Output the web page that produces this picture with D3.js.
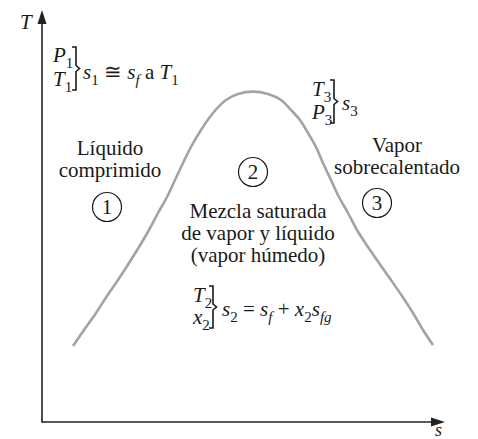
<!DOCTYPE html>
<html>
<head>
<meta charset="utf-8">
<script src="https://cdn.jsdelivr.net/npm/d3@7"></script>
</head>
<body style="margin:0">
<svg id="chart" width="478" height="439" style="font-family: 'Liberation Serif'"></svg>
<script>
// Saturation dome on the T-s plane (entropy units, temperature units)
const domeS = [7.75, 10.5, 13.5, 16.25, 19, 21.75, 24.25, 26.75, 29, 31.25, 33.25, 35.25,
               37.25, 39.75, 42.75, 46, 49, 52.75,
               56.5, 59.75, 62.25, 64.5, 66.5, 68.5, 70.25, 72.25, 74.25, 76.5, 78.75,
               81.5, 84.25, 87.25, 90, 92.75, 95.25, 97.75];
const domeT = [19, 23, 27.25, 31.5, 35.5, 39.75, 43.75, 48, 52.25, 56.25, 60.5, 64.75,
               68.75, 73, 77.25, 80.5, 82, 82.6,
               82, 80.5, 78, 75.5, 72.25, 68.75, 64.75, 60.5, 56.25, 52.25, 48,
               43.75, 39.75, 35.5, 31.5, 27.25, 23, 19.25];

const axisTitles = ["T", "s"];
const regionNames = [["Líquido", "comprimido"],
                     ["Mezcla saturada", "de vapor y líquido", "(vapor húmedo)"],
                     ["Vapor", "sobrecalentado"]];
const regionNumbers = ["1", "2", "3"];

const serif = "Liberation Serif";
const svg = d3.select("#chart");
const x = d3.scaleLinear().domain([0, 100]).range([42, 442]);
const y = d3.scaleLinear().domain([0, 100]).range([422, 22]);
const ink = "#1a1a1a";

function label(px, py, size) {
  return svg.append("text").attr("x", px).attr("y", py)
    .attr("font-family", serif).style("font-family", serif)
    .attr("font-size", size).attr("fill", ink);
}

// axes: plain lines with filled arrowheads, no ticks
const axisColor = "#222";
svg.append("path").attr("stroke", axisColor).attr("stroke-width", 1.6).attr("fill", "none")
  .attr("d", `M${x(0)},${y(0)}H${x(98)}`);
svg.append("path").attr("stroke", axisColor).attr("stroke-width", 1.6).attr("fill", "none")
  .attr("d", `M${x(0)},${y(0) + 0.8}V${y(100) - 2}`);
svg.append("path").attr("fill", axisColor)
  .attr("d", `M${x(0)},${y(103)} L${x(0) - 4.5},${y(99.5)} L${x(0) + 4.5},${y(99.5)} Z`);
svg.append("path").attr("fill", axisColor)
  .attr("d", `M${x(100.75)},${y(0)} L${x(97.25)},${y(0) - 4.5} L${x(97.25)},${y(0) + 4.5} Z`);

label(20, 29, 21).attr("font-style", "italic").text(axisTitles[0]);
label(435, 436, 18).attr("font-style", "italic").text(axisTitles[1]);

// dome
const line = d3.line().x(d => x(d[0])).y(d => y(d[1])).curve(d3.curveCatmullRom.alpha(0.5));
svg.append("path").datum(d3.zip(domeS, domeT))
  .attr("fill", "none").attr("stroke", "#a3a3a3").attr("stroke-width", 2.6)
  .attr("d", line);

// region labels
const fs = 21;
function block(lines, cx, y0, dy) {
  lines.forEach((t, i) => label(cx, y0 + i * dy, fs).attr("text-anchor", "middle").text(t));
}
block(regionNames[0], 110, 155, 22);
block(regionNames[1], 258, 218, 22);
block(regionNames[2], 397, 152, 22);

function numCircle(t, cx, cy) {
  svg.append("circle").attr("cx", cx).attr("cy", cy).attr("r", 14.5)
    .attr("fill", "none").attr("stroke", ink).attr("stroke-width", 1.2);
  label(cx, cy + 7, fs).attr("text-anchor", "middle").text(t);
}
numCircle(regionNumbers[0], 107, 207);
numCircle(regionNumbers[1], 253, 172);
numCircle(regionNumbers[2], 377, 203);

// math annotations: parts = [text, italic?, subscript?]
function mathText(px, py, parts, size) {
  const t = label(px, py, size);
  let sub = false;
  parts.forEach(([s, it, isSub]) => {
    const ts = t.append("tspan").text(s).style("font-family", serif)
      .attr("font-style", it ? "italic" : "normal");
    if (isSub && !sub) ts.attr("dy", size * 0.28).attr("font-size", size * 0.72);
    else if (!isSub && sub) ts.attr("dy", -size * 0.28);
    else if (isSub) ts.attr("font-size", size * 0.72);
    sub = isSub;
  });
  return t;
}
function brace(bx, top, bot) {
  const mid = (top + bot) / 2;
  svg.append("path").attr("fill", "none").attr("stroke", ink).attr("stroke-width", 1.6)
    .attr("d", `M${bx},${top} H${bx + 4} V${mid - 3} L${bx + 7.5},${mid} L${bx + 4},${mid + 3} V${bot} H${bx}`);
}

const ms = 21;
// state 1
mathText(53, 62, [["P", true, false], ["1", false, true]], ms);
mathText(53, 86, [["T", true, false], ["1", false, true]], ms);
brace(72, 47, 90);
mathText(83, 79, [["s", true, false], ["1", false, true], [" ≅ ", false, false],
  ["s", true, false], ["f", true, true], [" a ", false, false], ["T", true, false], ["1", false, true]], ms);

// state 3
mathText(312, 96, [["T", true, false], ["3", false, true]], ms);
mathText(312, 119, [["P", true, false], ["3", false, true]], ms);
brace(330, 80, 123);
mathText(342, 110, [["s", true, false], ["3", false, true]], ms);

// state 2
mathText(193, 302, [["T", true, false], ["2", false, true]], ms);
mathText(193, 324, [["x", true, false], ["2", false, true]], ms);
brace(209, 286, 328);
mathText(222, 316, [["s", true, false], ["2", false, true], [" = ", false, false],
  ["s", true, false], ["f", true, true], [" + ", false, false], ["x", true, false],
  ["2", false, true], ["s", true, false], ["fg", true, true]], ms);
</script>
</body>
</html>
